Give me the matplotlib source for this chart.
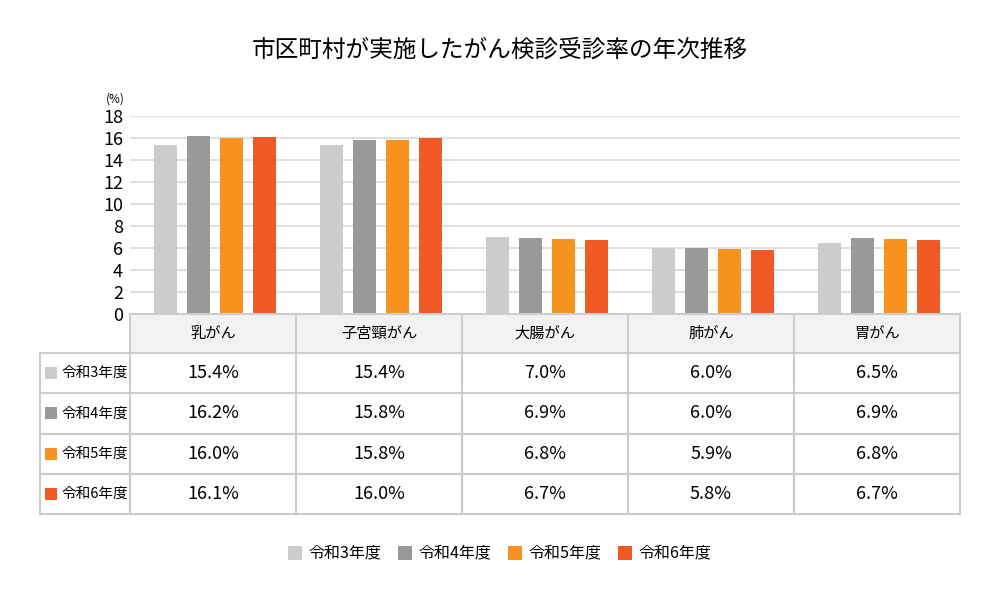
import matplotlib.pyplot as plt
import numpy as np

plt.rcParams['font.family'] = ['Noto Sans CJK JP', 'DejaVu Sans']

# データ
categories = ['乳がん', '子宮頸がん', '大腸がん', '肺がん', '胃がん']
years = ['令和3年度', '令和4年度', '令和5年度', '令和6年度']
rates = [
    [15.4, 15.4, 7.0, 6.0, 6.5],
    [16.2, 15.8, 6.9, 6.0, 6.9],
    [16.0, 15.8, 6.8, 5.9, 6.8],
    [16.1, 16.0, 6.7, 5.8, 6.7],
]
colors = ['#cccccc', '#999999', '#f7931e', '#f15a24']

fig = plt.figure(figsize=(10, 6), dpi=100)

# グラフ本体 (ピクセル位置から算出)
ax = fig.add_axes([0.13, 1 - 314 / 600, 0.83, (314 - 116) / 600])
x = np.arange(len(categories))
bw = 0.14
for i, vals in enumerate(rates):
    ax.bar(x + (i - 1.5) * 0.2 + 0.012, vals, width=bw, color=colors[i], zorder=3)
ax.set_xlim(-0.5, len(categories) - 0.5)
ax.set_ylim(0, 18)
ax.set_yticks(range(0, 19, 2))
ax.tick_params(axis='y', length=0, labelsize=13, pad=5)
ax.set_xticks([])
ax.grid(axis='y', color='#e0e0e0', linewidth=1.5, zorder=0)
for s in ax.spines.values():
    s.set_visible(False)

fig.text(0.5, 1 - 50 / 600, '市区町村が実施したがん検診受診率の年次推移', ha='center', va='center', fontsize=17)

# 表 (ピクセル座標のオーバーレイ)
tb = fig.add_axes([0, 0, 1, 1])
tb.set_xlim(0, 1000)
tb.set_ylim(600, 0)
tb.axis('off')

tb.text(125, 99, '(%)', ha='right', va='center', fontsize=8.5)

lc = '#cccccc'
lw = 1.5
x0, x1, x2 = 40, 130, 960
cw = (x2 - x1) / len(categories)
hy0, hy1 = 314, 353
rh = (514 - 353) / len(years)
yb = hy1 + rh * len(years)

tb.add_patch(plt.Rectangle((x1, hy0), x2 - x1, hy1 - hy0, facecolor='#f2f2f2', edgecolor='none'))
tb.plot([x1, x2], [hy0, hy0], color=lc, lw=lw)
for r in range(len(years) + 1):
    tb.plot([x0, x2], [hy1 + r * rh] * 2, color=lc, lw=lw)
tb.plot([x0, x0], [hy1, yb], color=lc, lw=lw)
for c in range(len(categories) + 1):
    tb.plot([x1 + c * cw] * 2, [hy0, yb], color=lc, lw=lw)

for c, name in enumerate(categories):
    tb.text(x1 + (c + 0.5) * cw, (hy0 + hy1) / 2, name, ha='center', va='center', fontsize=11)

for r, yr in enumerate(years):
    yc = hy1 + (r + 0.5) * rh
    tb.add_patch(plt.Rectangle((45, yc - 6), 12, 12, facecolor=colors[r], edgecolor='none'))
    tb.text(62, yc, yr, ha='left', va='center', fontsize=10.5)
    for c in range(len(categories)):
        tb.text(x1 + (c + 0.5) * cw, yc, f'{rates[r][c]:.1f}%', ha='center', va='center', fontsize=13)

# 凡例
lx = [288, 398, 508, 618]
for i, yr in enumerate(years):
    tb.add_patch(plt.Rectangle((lx[i], 546), 14, 14, facecolor=colors[i], edgecolor='none'))
    tb.text(lx[i] + 20, 553, yr, ha='left', va='center', fontsize=11.5)

fig.savefig('out.png', dpi=100)
